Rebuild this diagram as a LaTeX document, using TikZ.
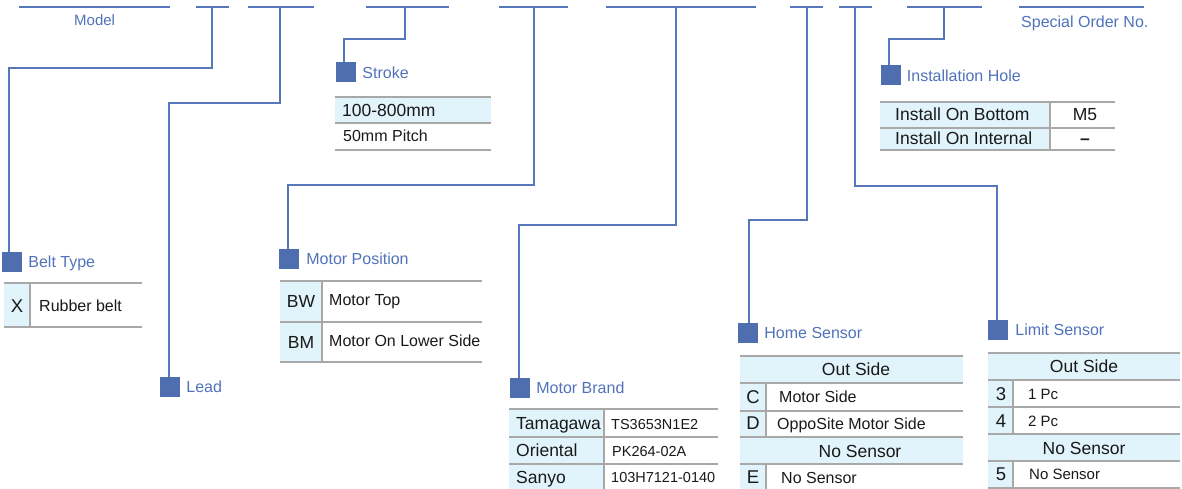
\documentclass[tikz,border=0pt]{standalone}
\usepackage{fontspec}
\setmainfont{Liberation Sans}
\definecolor{lineblue}{RGB}{86,119,186}
\definecolor{sqblue}{RGB}{78,110,175}
\definecolor{txtblue}{RGB}{80,114,186}
\definecolor{cellblue}{RGB}{225,243,251}
\definecolor{gridgray}{RGB}{168,168,168}
\definecolor{ink}{RGB}{25,25,25}
\begin{document}
\begin{tikzpicture}[x=1pt,y=-1pt,
  topseg/.style={draw=lineblue,line width=1.3pt},
  conn/.style={draw=lineblue,line width=1.2pt},
  sq/.style={fill=sqblue,minimum size=20pt,inner sep=0pt},
  lbl/.style={anchor=west,inner sep=0pt,text=txtblue,font=\fontsize{16}{18}\selectfont,text height=11.5pt,text depth=0pt},
  cell/.style={fill=cellblue},
  grid/.style={draw=gridgray,line width=1.3pt},
  tb/.style={anchor=west,inner sep=0pt,text=ink,font=\fontsize{16}{18}\selectfont,text height=11.5pt,text depth=0pt},
  ts/.style={anchor=west,inner sep=0pt,text=ink,font=\fontsize{15}{17}\selectfont,text height=10.8pt,text depth=0pt},
  th/.style={anchor=west,inner sep=0pt,text=ink,font=\fontsize{17.5}{20}\selectfont,text height=12.5pt,text depth=0pt},
  thc/.style={th,anchor=center},
  tl/.style={anchor=center,inner sep=0pt,text=ink,font=\fontsize{18.5}{21}\selectfont,text height=13.2pt,text depth=0pt},
  tc/.style={anchor=west,inner sep=0pt,text=ink,font=\fontsize{14.5}{17}\selectfont,text height=10.4pt,text depth=0pt}
]
\useasboundingbox (0,0) rectangle (1182,489);

% ---------- top code segments ----------
\coordinate (a1) at (19,7);   \coordinate (b1) at (170,7);
\coordinate (a2) at (196,7);  \coordinate (b2) at (229,7);  \coordinate (t2) at (212,7);
\coordinate (a3) at (248,7);  \coordinate (b3) at (314,7);  \coordinate (t3) at (280,7);
\coordinate (a4) at (366,7);  \coordinate (b4) at (449,7);  \coordinate (t4) at (405,7);
\coordinate (a5) at (499,7);  \coordinate (b5) at (568,7);  \coordinate (t5) at (534,7);
\coordinate (a6) at (606,7);  \coordinate (b6) at (756,7);  \coordinate (t6) at (676,7);
\coordinate (a7) at (790,7);  \coordinate (b7) at (823,7);  \coordinate (t7) at (807,7);
\coordinate (a8) at (839,7);  \coordinate (b8) at (872,7);  \coordinate (t8) at (855,7);
\coordinate (a9) at (907,7);  \coordinate (b9) at (982,7);  \coordinate (t9) at (944,7);
\coordinate (a10) at (1019,7); \coordinate (b10) at (1144,7);
\foreach \i in {1,...,10} \draw[topseg] (a\i) -- (b\i);

\node[lbl,anchor=west,font=\fontsize{15}{17}\selectfont,text height=10.8pt] (model) at (74,20) {Model};
\node[lbl,anchor=west] (special) at (1021,22) {Special Order No.};

% ---------- label squares ----------
\node[sq] (sqbelt)   at (12,262) {};
\node[sq] (sqlead)   at (170,387) {};
\node[sq] (sqstroke) at (345.5,72.5) {};
\node[sq] (sqpos)    at (289,259) {};
\node[sq] (sqbrand)  at (520,388) {};
\node[sq] (sqhome)   at (748,333) {};
\node[sq] (sqlimit)  at (998,330) {};
\node[sq] (sqhole)   at (890.5,75.5) {};

\node[lbl] (lbelt)   at ([xshift=6pt]sqbelt.east)   {Belt Type};
\node[lbl] (llead)   at ([xshift=6pt]sqlead.east)   {Lead};
\node[lbl] (lstroke) at ([xshift=6.5pt]sqstroke.east) {Stroke};
\node[lbl] (lpos)    at ([xshift=7pt]sqpos.east)    {Motor Position};
\node[lbl] (lbrand)  at ([xshift=6pt]sqbrand.east)  {Motor Brand};
\node[lbl] (lhome)   at ([xshift=6pt]sqhome.east)   {Home Sensor};
\node[lbl] (llimit)  at ([xshift=7pt]sqlimit.east)  {Limit Sensor};
\node[lbl] (lhole)   at ([xshift=6pt]sqhole.east)   {Installation Hole};

% ---------- connectors ----------
\draw[conn] (t2) -- ++(0,61) -| ([xshift=-3pt]sqbelt.north);
\draw[conn] (t3) -- ++(0,96) -| ([xshift=-1pt]sqlead.north);
\draw[conn] (t4) -- ++(0,32) -| ([xshift=-1.5pt]sqstroke.north);
\draw[conn] (t5) -- ++(0,178) -| ([xshift=-1pt]sqpos.north);
\draw[conn] (t6) -- ++(0,218) -| ([xshift=-1pt]sqbrand.north);
\draw[conn] (t7) -- ++(0,213) -| ([xshift=1pt]sqhome.north);
\draw[conn] (t8) -- ++(0,179) -| ([xshift=-1pt]sqlimit.north);
\draw[conn] (t9) -- ++(0,32) -| ([xshift=-1.5pt]sqhole.north);

% ---------- Stroke table ----------
\fill[cell] (335,97) rectangle (491,123);
\draw[grid] (335,97) -- (491,97) (335,123) -- (491,123) (335,150) -- (491,150);
\node[th] (s1) at (342,110) {100-800mm};
\node[tb] (s2) at (343,136) {50mm Pitch};

% ---------- Installation Hole table ----------
\fill[cell] (880,102) rectangle (1050,150);
\draw[grid] (880,102) -- (1115,102) (880,128) -- (1115,128) (880,150) -- (1115,150) (1050,102) -- (1050,150);
\node[th] (h1) at (895,114) {Install On Bottom};
\node[th] (h2) at (895,138) {Install On Internal};
\node[thc] (h3) at (1085,114) {M5};
\node[thc] (h4) at (1085,138) {\textbf{–}};

% ---------- Belt table ----------
\fill[cell] (4,283) rectangle (30,327);
\draw[grid] (4,283) -- (142,283) (4,327) -- (142,327) (30,283) -- (30,327);
\node[tl] (b1x) at (17,306) {X};
\node[tb] (b2x) at (39,306) {Rubber belt};

% ---------- Motor Position table ----------
\fill[cell] (280,281) rectangle (322,362);
\draw[grid] (280,281) -- (482,281) (280,322) -- (482,322) (280,362) -- (482,362) (322,281) -- (322,362);
\node[thc] (p1) at (301,301) {BW};
\node[thc] (p2) at (301,342) {BM};
\node[tb] (p3) at (329,300) {Motor Top};
\node[tb] (p4) at (329,341) {Motor On Lower Side};

% ---------- Motor Brand table ----------
\fill[cell] (509,409) rectangle (604,489);
\draw[grid] (509,409) -- (718,409) (509,437) -- (718,437) (509,464) -- (718,464) (604,409) -- (604,489);
\node[th] (m1) at (516,423.5) {Tamagawa};
\node[th] (m2) at (516,450) {Oriental};
\node[th] (m3) at (516,477) {Sanyo};
\node[tc] (m4) at (611,424) {TS3653N1E2};
\node[tc] (m5) at (612,451) {PK264-02A};
\node[tc] (m6) at (611,477) {103H7121-0140};

% ---------- Home Sensor table ----------
\fill[cell] (740,356) rectangle (963,383);
\fill[cell] (740,437) rectangle (963,464);
\fill[cell] (740,383) rectangle (766,437);
\fill[cell] (740,464) rectangle (766,489);
\draw[grid] (740,356) -- (963,356) (740,383) -- (963,383) (740,411) -- (963,411)
            (740,437) -- (963,437) (740,464) -- (963,464)
            (766,383) -- (766,437) (766,464) -- (766,489);
\node[thc] (hs1) at (856,369) {Out Side};
\node[tl]  (hs2) at (753,397) {C};
\node[tb]  (hs3) at (779,397) {Motor Side};
\node[tl]  (hs4) at (753,423) {D};
\node[tb]  (hs5) at (777,424) {OppoSite Motor Side};
\node[thc] (hs6) at (860,451) {No Sensor};
\node[tl]  (hs7) at (753,477) {E};
\node[tb]  (hs8) at (781,478) {No Sensor};

% ---------- Limit Sensor table ----------
\fill[cell] (988,353) rectangle (1180,380);
\fill[cell] (988,434) rectangle (1180,461);
\fill[cell] (988,380) rectangle (1013,434);
\fill[cell] (988,461) rectangle (1013,488);
\draw[grid] (988,353) -- (1180,353) (988,380) -- (1180,380) (988,407) -- (1180,407)
            (988,434) -- (1180,434) (988,461) -- (1180,461) (988,488) -- (1180,488)
            (1013,380) -- (1013,434) (1013,461) -- (1013,488);
\node[thc] (ls1) at (1084,366) {Out Side};
\node[tl]  (ls2) at (1001,394) {3};
\node[ts]  (ls3) at (1028,394) {1 Pc};
\node[tl]  (ls4) at (1001,421) {4};
\node[ts]  (ls5) at (1028,421) {2 Pc};
\node[thc] (ls6) at (1084,448) {No Sensor};
\node[tl]  (ls7) at (1001,474) {5};
\node[ts]  (ls8) at (1029,474) {No Sensor};
\end{tikzpicture}
\end{document}
